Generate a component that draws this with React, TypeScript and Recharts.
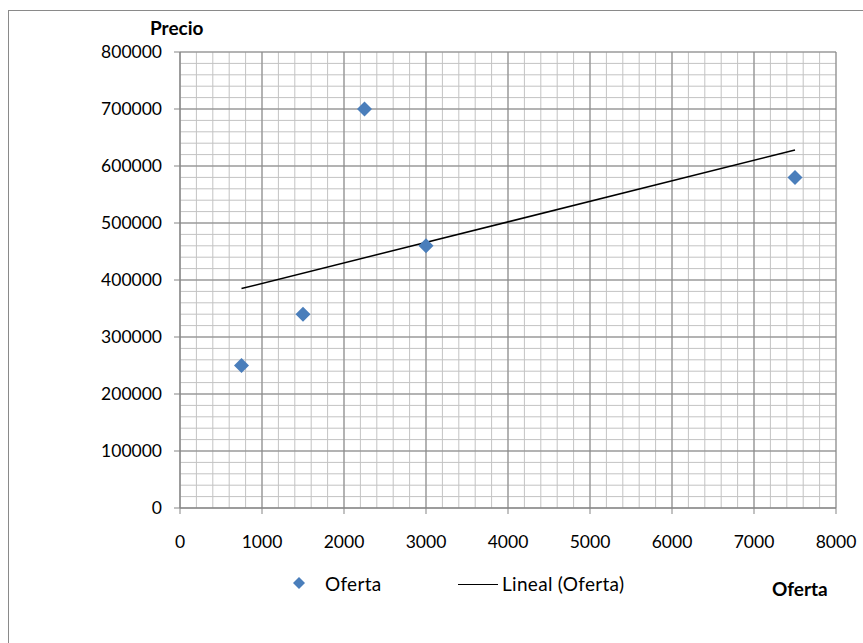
import React from "react";
import { ScatterChart, Scatter, XAxis, YAxis, CartesianGrid } from "recharts";

// Observed supply data: quantity offered vs. price
const ofertaX = [750, 1500, 2250, 3000, 7500];
const precioY = [250000, 340000, 700000, 460000, 580000];

// Axis ticks
const xTicks = [0, 1000, 2000, 3000, 4000, 5000, 6000, 7000, 8000];
const yTicks = [0, 100000, 200000, 300000, 400000, 500000, 600000, 700000, 800000];

// Minor grid steps
const xMinor = Array.from({ length: 41 }, (_, i) => i * 200);
const yMinor = Array.from({ length: 41 }, (_, i) => i * 20000);

const points = ofertaX.map((x, i) => ({ x, y: precioY[i] }));

// Least-squares linear trend over the observed points
const n = ofertaX.length;
const meanX = ofertaX.reduce((a, b) => a + b, 0) / n;
const meanY = precioY.reduce((a, b) => a + b, 0) / n;
const sxy = ofertaX.reduce((s, x, i) => s + (x - meanX) * (precioY[i] - meanY), 0);
const sxx = ofertaX.reduce((s, x) => s + (x - meanX) ** 2, 0);
const slope = sxy / sxx;
const intercept = meanY - slope * meanX;
const xMin = Math.min(...ofertaX);
const xMax = Math.max(...ofertaX);
const trend = [
  { x: xMin, y: intercept + slope * xMin },
  { x: xMax, y: intercept + slope * xMax },
];

const FONT = "Lato, 'Open Sans', sans-serif";
const BLUE = "#4a7ebb";
const MAJOR = "#858585";
const MINOR = "#c3c3c3";

const Diamond = (props: any) => {
  const { cx, cy } = props;
  const r = 7.5;
  return (
    <polygon
      points={`${cx},${cy - r} ${cx + r},${cy} ${cx},${cy + r} ${cx - r},${cy}`}
      fill={BLUE}
    />
  );
};

const NoShape = () => <g />;

const legendText: React.CSSProperties = {
  position: "absolute",
  fontSize: 19,
  letterSpacing: 0.3,
  color: "#000",
  whiteSpace: "nowrap",
};

const axisTitle: React.CSSProperties = {
  position: "absolute",
  fontSize: 19,
  fontWeight: 700,
  color: "#000",
  whiteSpace: "nowrap",
};

export default function App() {
  return (
    <div
      style={{
        position: "fixed",
        left: 0,
        top: 0,
        width: 863,
        height: 643,
        overflow: "hidden",
        background: "#fff",
        fontFamily: FONT,
      }}
    >
      {/* Chart frame: left and top edges are visible */}
      <div
        style={{
          position: "absolute",
          left: 8,
          top: 10,
          width: 900,
          height: 700,
          borderLeft: "1px solid #8a8a8a",
          borderTop: "1px solid #8a8a8a",
        }}
      />
      <div style={{ position: "absolute", left: 0, top: 0 }}>
        <ScatterChart
          width={863}
          height={643}
          margin={{ top: 52, right: 27, left: 0, bottom: 95 }}
        >
          <CartesianGrid
            stroke={MINOR}
            strokeWidth={1}
            horizontalValues={yMinor}
            verticalValues={xMinor}
          />
          <CartesianGrid
            stroke={MAJOR}
            strokeWidth={1}
            horizontalValues={yTicks}
            verticalValues={xTicks}
          />
          <XAxis
            type="number"
            dataKey="x"
            domain={[0, 8000]}
            ticks={xTicks}
            height={40}
            axisLine={{ stroke: MAJOR }}
            tickLine={{ stroke: MAJOR }}
            tickSize={6}
            tickMargin={22}
            tick={{ fill: "#000", fontSize: 17.5, fontFamily: FONT }}
            interval={0}
          />
          <YAxis
            type="number"
            dataKey="y"
            domain={[0, 800000]}
            ticks={yTicks}
            width={180}
            axisLine={{ stroke: MAJOR }}
            tickLine={{ stroke: MAJOR }}
            tickSize={6}
            tickMargin={12}
            tick={{ fill: "#000", fontSize: 17.5, fontFamily: FONT }}
            interval={0}
          />
          <Scatter
            data={trend}
            line={{ stroke: "#000", strokeWidth: 1.5 }}
            shape={NoShape}
            isAnimationActive={false}
          />
          <Scatter data={points} shape={Diamond} isAnimationActive={false} />
        </ScatterChart>
      </div>
      {/* Axis titles */}
      <div style={{ ...axisTitle, left: 150, top: 16 }}>Precio</div>
      <div style={{ ...axisTitle, left: 772, top: 577 }}>Oferta</div>
      {/* Legend */}
      <svg
        style={{ position: "absolute", left: 292, top: 576 }}
        width={14}
        height={14}
      >
        <polygon points="7,1 13,7 7,13 1,7" fill={BLUE} />
      </svg>
      <div style={{ ...legendText, left: 325, top: 572 }}>Oferta</div>
      <div
        style={{
          position: "absolute",
          left: 458,
          top: 584,
          width: 40,
          height: 0,
          borderTop: "1.5px solid #000",
        }}
      />
      <div style={{ ...legendText, left: 502, top: 572 }}>Lineal (Oferta)</div>
    </div>
  );
}
